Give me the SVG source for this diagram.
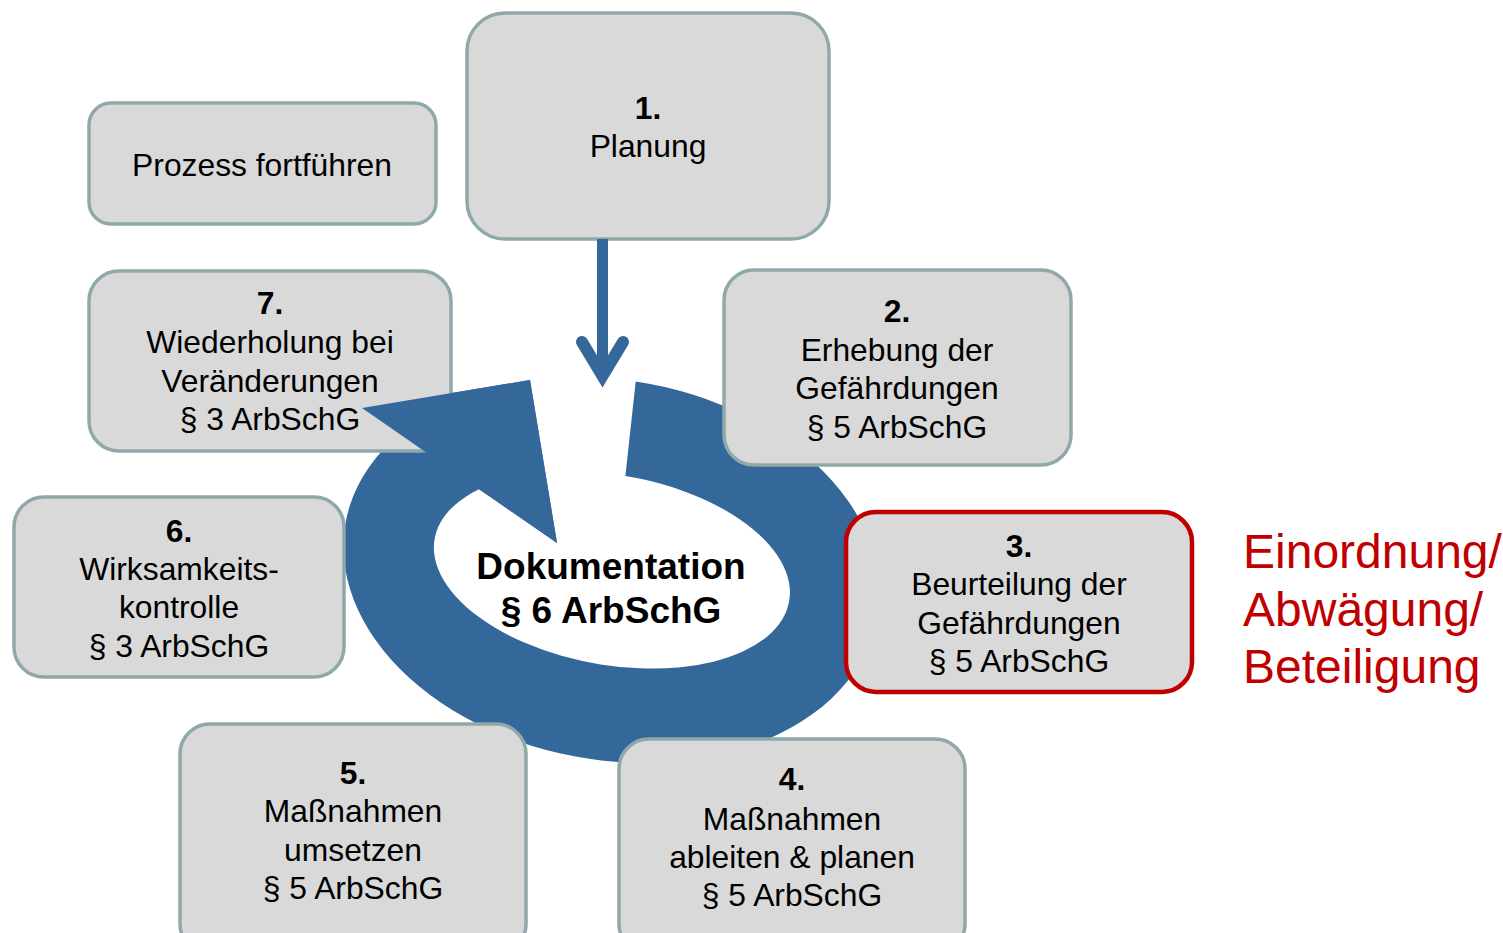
<svg xmlns="http://www.w3.org/2000/svg" width="1503" height="933" viewBox="0 0 1503 933">
<style>
.box{fill:#D9D9D9;stroke:#8FA9AB;stroke-width:3.5}
.hl{fill:#D9D9D9;stroke:#C00000;stroke-width:4.5}
.t{font-family:"Liberation Sans",Arial,sans-serif;font-size:31.8px;fill:#000;text-anchor:middle}
.b{font-weight:bold}
.doc{font-family:"Liberation Sans",Arial,sans-serif;font-size:37px;font-weight:bold;fill:#000;text-anchor:middle}
.red{font-family:"Liberation Sans",Arial,sans-serif;font-size:48px;fill:#C00000}
.blue{fill:#34679A}
</style>
<rect width="1503" height="933" fill="#FFFFFF"/>
<g id="cycle">
<path class="blue" d="M635.7,381.4 A270,190 10 1 1 399.5,434.2 L362,408 L530,380 L557,543 L479,489.3 A180,95 10 1 0 625.4,475.9 Z"/>
</g>
<g id="node-prozess">
<rect class="box" x="89" y="103" width="347" height="121" rx="22"/>
<text class="t" x="262" y="176">Prozess fortführen</text>
</g>
<g id="node-1">
<rect class="box" x="467" y="13" width="362" height="226" rx="38"/>
<text class="t b" x="648" y="119">1.</text>
<text class="t" x="648" y="157">Planung</text>
</g>
<g id="node-7">
<rect class="box" x="89" y="271" width="362" height="180" rx="30"/>
<text class="t b" x="270" y="314">7.</text>
<text class="t" x="270" y="353">Wiederholung bei</text>
<text class="t" x="270" y="392">Veränderungen</text>
<text class="t" x="270" y="430">§ 3 ArbSchG</text>
</g>
<g id="cycle-head">
<polygon class="blue" points="362,408 530,380 557,543"/>
</g>
<g id="node-2">
<rect class="box" x="724" y="270" width="347" height="195" rx="30"/>
<text class="t b" x="897" y="322">2.</text>
<text class="t" x="897" y="361">Erhebung der</text>
<text class="t" x="897" y="399">Gefährdungen</text>
<text class="t" x="897" y="438">§ 5 ArbSchG</text>
</g>
<g id="node-6">
<rect class="box" x="14" y="497" width="330" height="180" rx="30"/>
<text class="t b" x="179" y="542">6.</text>
<text class="t" x="179" y="580">Wirksamkeits-</text>
<text class="t" x="179" y="618">kontrolle</text>
<text class="t" x="179" y="657">§ 3 ArbSchG</text>
</g>
<g id="node-3">
<rect class="hl" x="846" y="512" width="346" height="180" rx="30"/>
<text class="t b" x="1019" y="557">3.</text>
<text class="t" x="1019" y="595">Beurteilung der</text>
<text class="t" x="1019" y="634">Gefährdungen</text>
<text class="t" x="1019" y="672">§ 5 ArbSchG</text>
</g>
<g id="node-5">
<rect class="box" x="180" y="724" width="346" height="230" rx="30"/>
<text class="t b" x="353" y="784">5.</text>
<text class="t" x="353" y="822">Maßnahmen</text>
<text class="t" x="353" y="861">umsetzen</text>
<text class="t" x="353" y="899">§ 5 ArbSchG</text>
</g>
<g id="node-4">
<rect class="box" x="619" y="739" width="346" height="215" rx="30"/>
<text class="t b" x="792" y="790">4.</text>
<text class="t" x="792" y="830">Maßnahmen</text>
<text class="t" x="792" y="868">ableiten &amp; planen</text>
<text class="t" x="792" y="906">§ 5 ArbSchG</text>
</g>
<g id="center-label">
<text class="doc" x="611" y="579">Dokumentation</text>
<text class="doc" x="611" y="623">§ 6 ArbSchG</text>
</g>
<g id="side-label">
<text class="red" x="1243" y="568">Einordnung/</text>
<text class="red" x="1243" y="626">Abwägung/</text>
<text class="red" x="1243" y="683">Beteiligung</text>
</g>
<g id="connectors">
<line x1="602.5" y1="239" x2="602.5" y2="376" stroke="#34679A" stroke-width="11"/>
<path d="M582,342 L602.5,376 L623,342" fill="none" stroke="#34679A" stroke-width="12" stroke-linecap="round" stroke-linejoin="miter" stroke-miterlimit="10"/>
</g>
</svg>
